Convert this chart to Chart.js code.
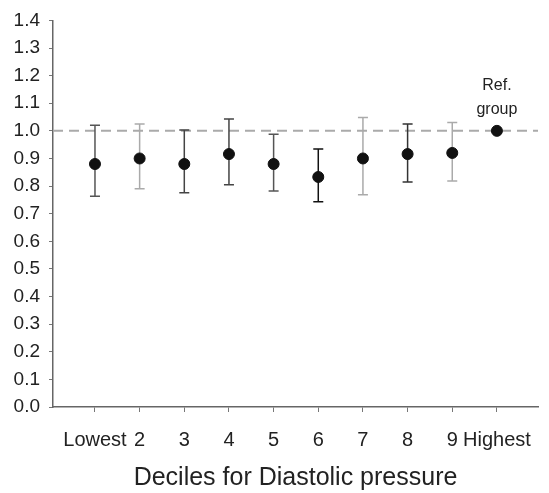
<!DOCTYPE html>
<html>
<head>
<meta charset="utf-8" />
<script src="https://cdn.jsdelivr.net/npm/chart.js@4/dist/chart.umd.min.js"></script>
<style>
 html, body { margin: 0; padding: 0; background: #fff; }
 #wrap { width: 549px; height: 493px; }
</style>
</head>
<body>
<div id="wrap"><canvas id="chart"></canvas></div>
<script>
// deciles (x = 1..10)
var deciles = ["Lowest", "2", "3", "4", "5", "6", "7", "8", "9", "Highest"];
var estimate = [0.88, 0.90, 0.88, 0.916, 0.88, 0.833, 0.90, 0.916, 0.92, 1.0];
var upper    = [1.02, 1.025, 1.003, 1.043, 0.988, 0.934, 1.048, 1.025, 1.03, null];
var lower    = [0.763, 0.79, 0.776, 0.805, 0.782, 0.743, 0.769, 0.815, 0.818, null];
var barColors = ["#555", "#aaa", "#444", "#444", "#555", "#111", "#aaa", "#333", "#aaa", "#000"];
var refValue = 1.0;
var yTicks = [0, 0.1, 0.2, 0.3, 0.4, 0.5, 0.6, 0.7, 0.8, 0.9, 1.0, 1.1, 1.2, 1.3, 1.4];

var font = "'Liberation Sans', Arial, sans-serif";

var points = estimate.map(function (v, i) { return { x: i + 1, y: v }; });

// reference line + error bars drawn under the points
var errorBars = {
    id: 'errorBars',
    beforeDatasetsDraw: function (chart) {
        var ctx = chart.ctx, xs = chart.scales.x, ys = chart.scales.y;
        ctx.save();
        // dashed reference line at 1.0
        ctx.strokeStyle = "#aaa";
        ctx.lineWidth = 2;
        ctx.setLineDash([10, 6]);
        ctx.beginPath();
        ctx.moveTo(chart.chartArea.left, ys.getPixelForValue(refValue));
        ctx.lineTo(chart.chartArea.right, ys.getPixelForValue(refValue));
        ctx.stroke();
        ctx.setLineDash([]);
        for (var i = 0; i < estimate.length; i++) {
            if (upper[i] == null) continue;
            var px = xs.getPixelForValue(i + 1);
            var top = ys.getPixelForValue(upper[i]);
            var bot = ys.getPixelForValue(lower[i]);
            ctx.strokeStyle = barColors[i];
            ctx.lineWidth = 1.5;
            ctx.beginPath();
            ctx.moveTo(px, top); ctx.lineTo(px, bot);
            ctx.moveTo(px - 5, top); ctx.lineTo(px + 5, top);
            ctx.moveTo(px - 5, bot); ctx.lineTo(px + 5, bot);
            ctx.stroke();
        }
        // "Ref. group" label over the last point
        var rx = xs.getPixelForValue(10), ry = ys.getPixelForValue(refValue);
        ctx.fillStyle = "#222";
        ctx.textAlign = "center";
        ctx.textBaseline = "middle";
        ctx.font = "16px " + font;
        ctx.fillText("Ref.", rx, ry - 45);
        ctx.fillText("group", rx, ry - 21);
        ctx.restore();
    }
};

new Chart(document.getElementById("chart"), {
    type: 'scatter',
    data: {
        datasets: [{
            data: points,
            backgroundColor: "#111",
            borderColor: "#111",
            pointRadius: 5.5,
            pointHoverRadius: 5.5
        }]
    },
    options: {
        responsive: true,
        maintainAspectRatio: false,
        animation: false,
        layout: { padding: { top: 17, right: 11, left: 0, bottom: 0 } },
        plugins: { legend: { display: false }, tooltip: { enabled: false } },
        scales: {
            x: {
                type: 'linear',
                min: 0.06,
                max: 10.92,
                afterBuildTicks: function (axis) {
                    axis.ticks = deciles.map(function (d, i) { return { value: i + 1 }; });
                },
                afterFit: function (axis) { axis.height = 86; },
                border: { display: true, color: "#666", width: 1.5 },
                grid: { drawOnChartArea: false, drawTicks: true, tickLength: 5, color: "#777" },
                ticks: {
                    autoSkip: false,
                    maxRotation: 0,
                    padding: 16,
                    color: "#222",
                    font: { family: font, size: 20 },
                    callback: function (v) { return deciles[v - 1]; }
                },
                title: {
                    display: true,
                    text: "Deciles for Diastolic pressure",
                    color: "#222",
                    font: { family: font, size: 25 },
                    padding: { top: 0, bottom: 0 }
                }
            },
            y: {
                min: 0,
                max: 1.4,
                afterBuildTicks: function (axis) {
                    axis.ticks = yTicks.map(function (v) { return { value: v }; });
                },
                afterFit: function (axis) { axis.width = 53; },
                border: { display: true, color: "#666", width: 1.5 },
                grid: { drawOnChartArea: false, drawTicks: true, tickLength: 4, color: "#777" },
                ticks: {
                    padding: 9,
                    color: "#222",
                    font: { family: font, size: 19 },
                    callback: function (v) { return v.toFixed(1); }
                }
            }
        }
    },
    plugins: [errorBars]
});
</script>
</body>
</html>
